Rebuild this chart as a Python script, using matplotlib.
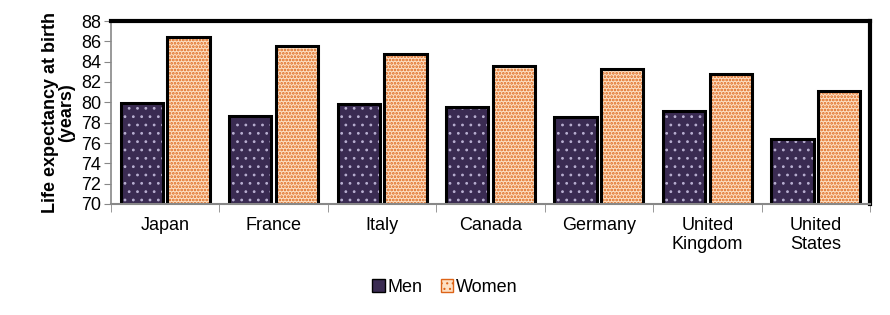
import matplotlib
matplotlib.use("Agg")
import matplotlib.pyplot as plt
import numpy as np
from matplotlib.patches import Patch

plt.rcParams['font.family'] = ['Liberation Sans', 'DejaVu Sans']
plt.rcParams['hatch.linewidth'] = 0.8

countries = ["Japan", "France", "Italy", "Canada", "Germany", "United\nKingdom", "United\nStates"]
men = [79.9, 78.7, 79.8, 79.5, 78.6, 79.1, 76.4]
women = [86.4, 85.5, 84.8, 83.6, 83.3, 82.8, 81.1]
yticks = [70, 72, 74, 76, 78, 80, 82, 84, 86, 88]

men_face = "#3a2b52"
men_dot = "#b8afd0"
women_face = "#fde0c4"
women_dot = "#dd6418"

fig = plt.figure(figsize=(8.9, 3.15), dpi=100)
ax = fig.add_axes([111/890, 1-204/315, (870-111)/890, (204-21)/315])

x = np.arange(len(countries))
w = 0.39
gap = 0.02
base = 70
mh = np.array(men) - base
wh = np.array(women) - base

# fills with hatch
ax.bar(x - w/2 - gap, mh, w, bottom=base, color=men_face, edgecolor=men_dot, hatch='..', linewidth=0)
wbars = ax.bar(x + w/2 + gap, wh, w, bottom=base, color=women_face, edgecolor=women_dot, hatch='.....', linewidth=0)
for p in wbars:
    if hasattr(p, "set_hatch_linewidth"):
        p.set_hatch_linewidth(1.3)
# outlines
ax.bar(x - w/2 - gap, mh, w, bottom=base, fill=False, edgecolor='black', linewidth=2.2)
ax.bar(x + w/2 + gap, wh, w, bottom=base, fill=False, edgecolor='black', linewidth=2.2)

ax.set_ylim(70, 88)
ax.set_xlim(-0.5, len(countries) - 0.5)
ax.set_yticks(yticks)
ax.set_yticklabels([str(t) for t in yticks], fontsize=13)
ax.set_xticks(x)
ax.set_xticklabels(countries, fontsize=13, linespacing=1.2)
ax.tick_params(axis='x', length=0, pad=9)
ax.set_xticks(np.arange(len(countries) + 1) - 0.5, minor=True)
ax.tick_params(axis='x', which='minor', length=6, color='#888888', direction='out')
ax.tick_params(axis='y', length=5, color='#888888', direction='out', pad=2)

ax.spines['top'].set_linewidth(3)
ax.spines['top'].set_color('black')
ax.spines['right'].set_linewidth(3)
ax.spines['right'].set_color('black')
ax.spines['left'].set_color('#888888')
ax.spines['left'].set_linewidth(1.2)
ax.spines['bottom'].set_color('#888888')
ax.spines['bottom'].set_linewidth(1.5)

ax.set_ylabel("Life expectancy at birth\n(years)", fontsize=13, fontweight='bold', labelpad=4, linespacing=1.0)

handles = [Patch(facecolor=men_face, edgecolor='black', linewidth=1),
           Patch(facecolor=women_face, edgecolor=women_dot, hatch='...', linewidth=1)]
fig.legend(handles, ["Men", "Women"], loc='center', bbox_to_anchor=(445/890, 1-287/315),
           ncol=2, frameon=False, fontsize=13, handlelength=0.7, handleheight=0.7,
           handletextpad=0.15, columnspacing=1.0)

fig.savefig("out.png", dpi=100)
